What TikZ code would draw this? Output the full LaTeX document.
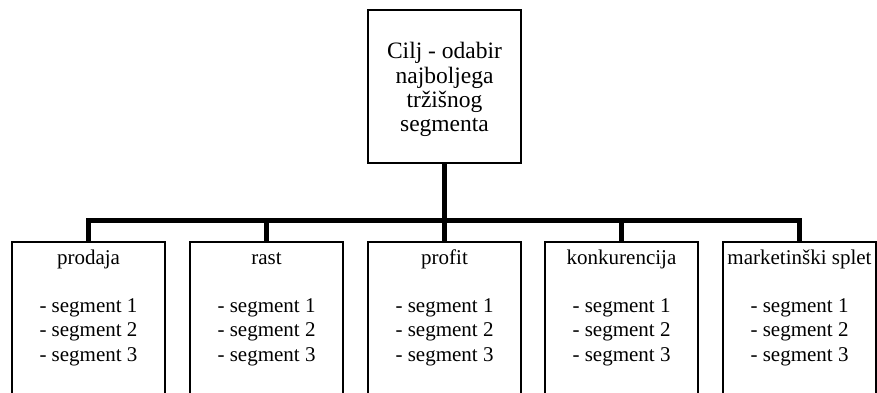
\documentclass[tikz,border=0pt]{standalone}
\usepackage{fontspec}
\setmainfont{Liberation Serif}
\begin{document}
\begin{tikzpicture}[x=1pt,y=-1pt,
  box/.style={draw=black,line width=1.6pt,fill=white,inner sep=0pt,align=center},
  goalbox/.style={box,minimum width=153pt,minimum height=153pt,
    font=\fontsize{23.5}{24.3}\selectfont},
  critbox/.style={box,minimum width=153pt,anchor=north,
    font=\fontsize{21}{24.2}\selectfont},
  conn/.style={line width=5.5pt,line join=miter,line cap=butt}]
\useasboundingbox (0,0) rectangle (877,392);
\clip (0,0) rectangle (877,392);
\node[goalbox] (goal) at (444.5,86.5) {\rule{0pt}{25pt}Cilj - odabir\\najboljega\\tržišnog\\segmenta\strut};
\newcommand{\crit}[1]{\rule{0pt}{22.5pt}#1\\[24.2pt]- segment 1\\- segment 2\\- segment 3\rule[-50pt]{0pt}{0pt}}
\node[critbox] (b1) at (88.5,241) {\crit{prodaja}};
\node[critbox] (b2) at (266.5,241) {\crit{rast}};
\node[critbox] (b3) at (444.5,241) {\crit{profit}};
\node[critbox] (b4) at (621.5,241) {\crit{konkurencija}};
\node[critbox] (b5) at (799.5,241) {\crit{marketinški splet}};
\coordinate (bar) at (0,220.5);
\draw[conn] (b1.north) -- (b1.north |- bar) -- (b5.north |- bar) -- (b5.north);
\draw[conn] (goal.south) -- (b3.north);
\draw[conn] (b2.north |- bar) -- (b2.north);
\draw[conn] (b4.north |- bar) -- (b4.north);
\end{tikzpicture}
\end{document}
